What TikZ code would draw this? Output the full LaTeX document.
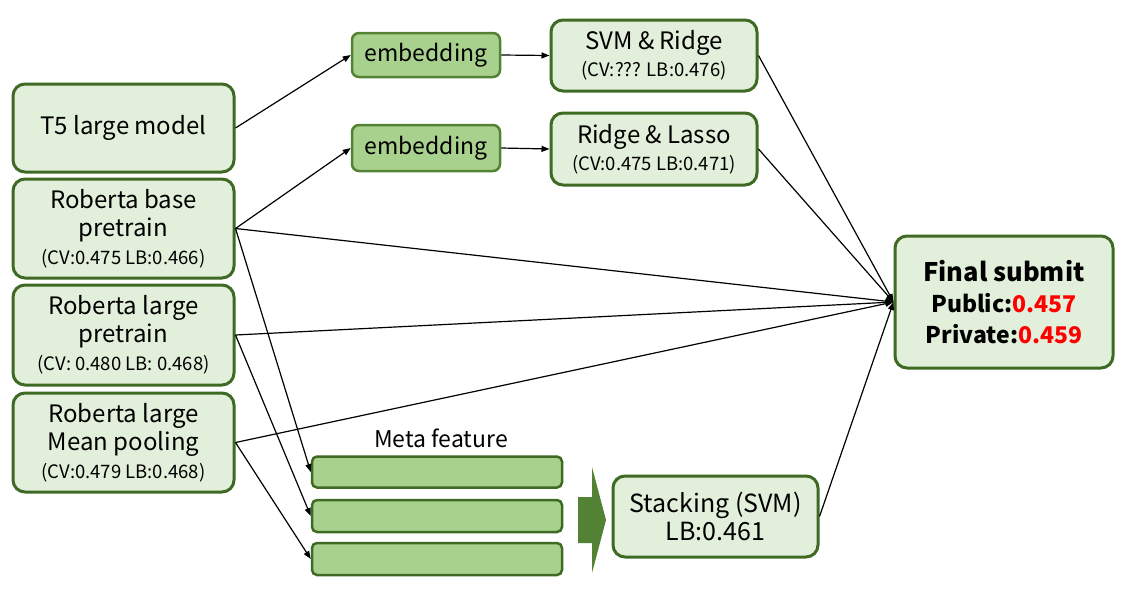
\documentclass[tikz,border=0pt]{standalone}
\usepackage{fontspec}
\setmainfont{Noto Sans CJK JP}
\usetikzlibrary{arrows.meta}
\definecolor{lg}{HTML}{E2EFDA}
\definecolor{dg}{HTML}{3F6A24}
\definecolor{mg}{HTML}{A9D18E}
\definecolor{eg}{HTML}{548235}
\definecolor{rd}{HTML}{FF0000}
\newcommand{\smtxt}{\fontsize{18.5}{20}\selectfont}
\begin{document}
\begin{tikzpicture}[x=1pt,y=-1pt,
  box/.style={draw=dg, fill=lg, line width=3pt, rounded corners=12pt, align=center, inner sep=0pt, font=\fontsize{24}{28}\selectfont},
  embbox/.style={draw=eg, fill=mg, line width=2.5pt, rounded corners=7pt, inner sep=0pt, font=\fontsize{23}{26}\selectfont, minimum width=148pt},
  mbar/.style={draw=dg, fill=mg, line width=2.5pt, rounded corners=5pt, inner sep=0pt, minimum width=250pt},
  conn/.style={-{Triangle[length=8pt,width=6pt]}, line width=1.2pt, black}]
\useasboundingbox (0,0) rectangle (1129,590);

\node[box, minimum width=221pt, minimum height=88pt] (t5) at (123.5,128) {T5 large model};
\node[box, minimum width=221pt, minimum height=99pt] (rb) at (123.5,228.5) {Roberta base\\pretrain\\{\smtxt (CV:0.475 LB:0.466)}};
\node[box, minimum width=221pt, minimum height=100pt] (rlp) at (123.5,335) {Roberta large\\pretrain\\{\smtxt (CV: 0.480 LB: 0.468)}};
\node[box, minimum width=221pt, minimum height=99pt] (rlm) at (123.5,442.5) {Roberta large\\Mean pooling\\{\smtxt (CV:0.479 LB:0.468)}};

\node[embbox, minimum height=44pt] (e1) at (426,55) {embedding};
\node[embbox, minimum height=46pt] (e2) at (426,148) {embedding};

\node[box, minimum width=206pt, minimum height=71pt, font=\fontsize{24}{27}\selectfont] (svm) at (654,55.5) {SVM \& Ridge\\{\smtxt (CV:??? LB:0.476)}};
\node[box, minimum width=206pt, minimum height=72pt, font=\fontsize{24}{27}\selectfont] (rl) at (654,149) {Ridge \& Lasso\\{\smtxt (CV:0.475 LB:0.471)}};

\node[box, minimum width=218pt, minimum height=132pt, font=\fontsize{23}{31}\selectfont\bfseries] (fin) at (1004,302) {{\fontsize{25.5}{31}\selectfont Final submit}\\Public:\textcolor{rd}{0.457}\\Private:\textcolor{rd}{0.459}};

\node[font=\fontsize{23}{25}\selectfont] (mf) at (441,438) {Meta feature};
\node[mbar, minimum height=31pt] (b1) at (437,472) {};
\node[mbar, minimum height=32pt] (b2) at (437,516) {};
\node[mbar, minimum height=32pt] (b3) at (437,559) {};

\fill[eg] (578,497) -- (592,497) -- (592,467) -- (606,520) -- (592,573) -- (592,543) -- (578,543) -- cycle;

\node[box, minimum width=205pt, minimum height=81pt, font=\fontsize{25}{28}\selectfont] (st) at (715.5,516.5) {Stacking (SVM)\\LB:0.461};

\draw[conn] (t5.east) -- (e1.west);
\draw[conn] (rb.east) -- (e2.west);
\draw[conn] (e1.east) -- (svm.west);
\draw[conn] (e2.east) -- (rl.west);
\draw[conn] (svm.east) -- (fin.west);
\draw[conn] (rl.east) -- (fin.west);
\draw[conn] (rb.east) -- (fin.west);
\draw[conn] (rlp.east) -- (fin.west);
\draw[conn] (rlm.east) -- (fin.west);
\draw[conn] (st.east) -- (fin.west);
\draw[conn] (rb.east) -- (b1.west);
\draw[conn] (rlp.east) -- (b2.west);
\draw[conn] (rlm.east) -- (b3.west);
\end{tikzpicture}
\end{document}
